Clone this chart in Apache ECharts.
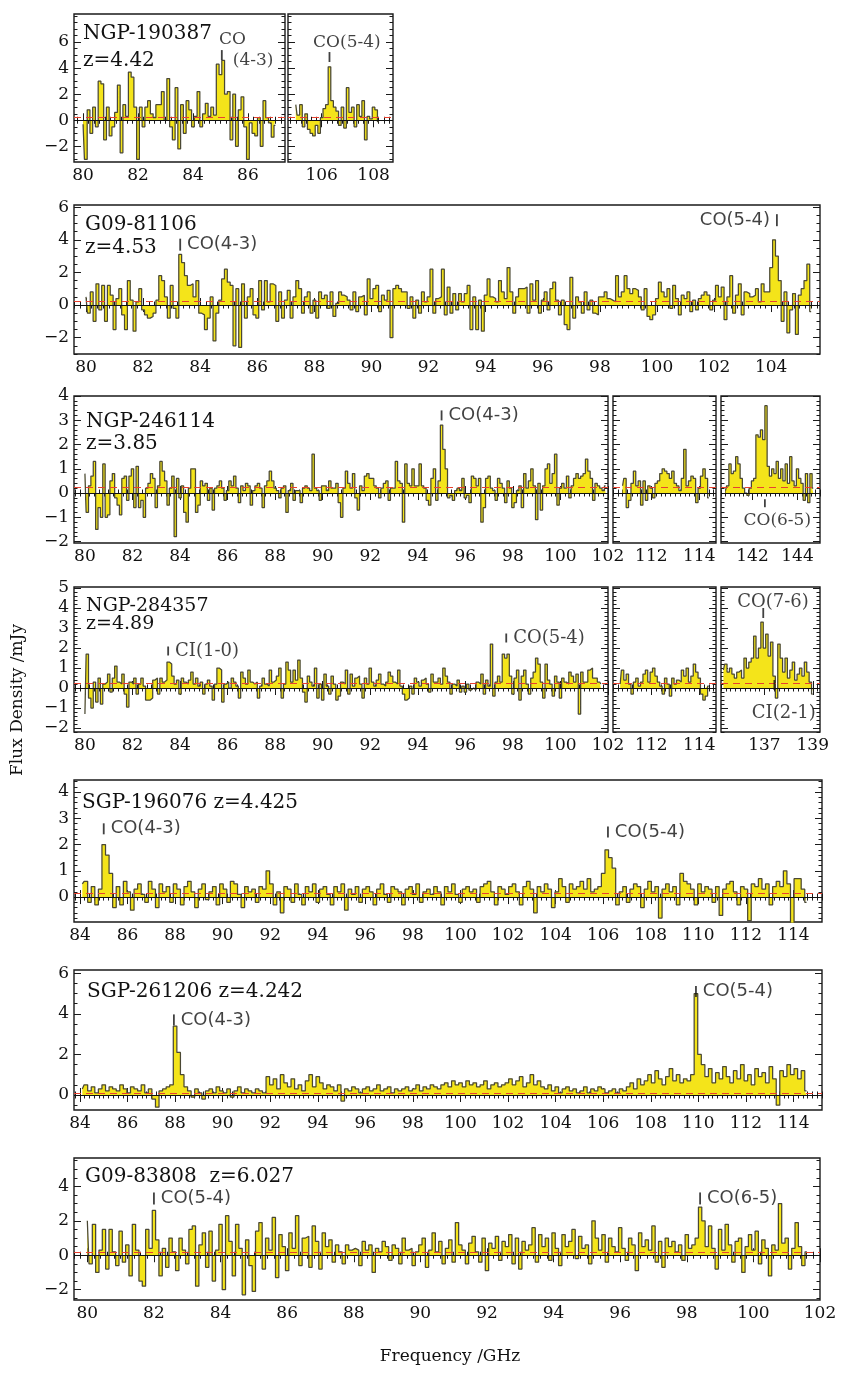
<!DOCTYPE html>
<html>
<head>
<meta charset="utf-8">
<script src="https://cdn.jsdelivr.net/npm/echarts@6/dist/echarts.min.js"></script>
<style>
  html, body { margin: 0; padding: 0; background: #fff; }
  #chart { width: 842px; height: 1373px; }
</style>
</head>
<body>
<div id="chart"></div>
<script>
// ---------- spectra (mJy per channel) ----------
// NGP-190387, z=4.42
const ngp190387LoStart = 80.0, ngp190387LoStep = 0.1;
const ngp190387Lo = [
  -0.3,-3.0,0.8,-1.0,1.0,-0.5,3.0,2.8,-1.5,1.0,
  -1.2,-0.5,0.6,2.7,-2.5,1.2,0.3,3.7,3.3,1.0,
  -3.0,1.0,-0.5,1.0,1.5,0.5,0.2,1.2,1.2,2.2,
  0.0,3.2,-0.5,-1.5,2.5,-2.2,1.2,-1.0,1.5,0.8,
  -0.5,0.3,2.2,-0.5,0.5,1.3,0.3,1.0,0.4,4.3,
  3.5,4.6,2.0,2.2,-1.5,2.0,-2.0,0.8,1.8,-0.5,
  -3.0,-0.2,-1.0,-1.2,0.2,-2.0,1.5,0.2,-0.2,-1.3,
  -0.4];
const ngp190387HiStart = 105.0, ngp190387HiStep = 0.1;
const ngp190387Hi = [
  1.2,0.4,1.2,-0.5,0.5,-0.7,-1.0,-1.2,-0.4,-1.0,
  0.2,0.9,1.2,4.1,1.5,1.0,0.7,-0.4,1.0,-0.6,
  2.5,0.6,1.0,-0.5,1.2,0.3,1.5,-1.5,0.3,0.1,
  1.0,0.8,-0.1];

// G09-81106, z=4.53
const g0981106Start = 80.0, g0981106Step = 0.1;
const g0981106 = [
  0.5,-0.5,0.8,-1.0,1.3,-0.3,1.2,-1.0,1.2,0.6,
  -1.5,0.4,1.0,-0.6,-1.5,1.5,0.3,-1.6,0.2,1.0,
  -0.3,-0.6,-0.8,-0.7,-0.5,0.3,1.8,1.5,0.5,-0.8,
  1.2,-0.2,-0.8,3.1,2.6,1.8,1.2,1.3,0.5,1.5,
  -0.5,-0.6,-1.5,-0.8,0.5,-2.2,-0.5,0.3,1.6,2.2,
  1.4,1.2,-2.5,1.0,-2.6,1.3,-0.8,0.5,1.0,-0.6,
  -0.8,1.5,-0.3,1.5,0.2,1.3,1.2,-1.0,0.8,-0.8,
  0.3,0.9,-0.8,0.5,1.5,1.0,-0.5,0.5,0.8,-0.5,
  0.3,-0.8,0.8,0.4,0.6,-0.2,0.8,-0.7,0.1,0.8,
  0.6,0.5,0.3,-0.3,0.8,-0.4,0.5,0.6,-0.6,1.6,
  0.4,1.0,1.2,-0.4,0.6,0.3,0.9,-2.0,1.0,1.2,
  1.0,0.8,0.8,-0.2,0.5,-0.8,0.3,-0.5,0.8,0.2,
  0.5,2.2,-0.5,0.4,0.5,2.2,-0.6,1.1,-0.5,0.7,
  -0.3,0.7,0.2,0.7,1.2,-1.5,0.5,-1.5,0.3,-1.6,
  0.6,1.6,0.5,0.4,0.2,1.5,0.8,0.4,2.3,0.8,
  -0.5,0.5,1.0,1.0,1.1,-0.5,1.3,0.3,1.5,-0.5,
  0.3,0.8,-0.3,1.0,1.4,0.3,-0.6,0.3,-1.2,-1.5,
  1.7,-0.8,0.5,0.2,-0.5,0.8,-0.3,0.3,-0.5,-0.6,
  0.5,0.5,0.8,0.4,0.3,0.2,1.8,0.5,0.8,1.8,
  1.0,0.7,1.0,0.9,0.5,-0.3,1.0,-0.7,-0.9,-0.6,
  0.4,1.4,0.8,0.5,1.0,-0.2,1.2,0.4,-0.6,0.6,
  0.4,0.8,-0.4,0.3,-0.3,0.4,0.6,0.8,0.6,-0.3,
  0.3,1.2,0.5,1.1,-0.9,0.5,1.8,-0.5,0.6,1.3,
  -0.6,0.8,0.7,0.5,0.6,1.0,0.2,1.3,0.8,0.8,
  2.3,4.0,3.0,1.5,-1.0,0.8,-1.7,-0.3,0.7,-1.8,
  0.6,1.0,1.5,2.5,-0.4];

// NGP-246114, z=3.85
const ngp246114LoStart = 80.0, ngp246114LoStep = 0.1;
const ngp246114Lo = [
  0.8,-0.8,0.3,0.7,1.3,-1.5,-0.6,-1.0,1.2,-1.0,
  -0.9,0.5,0.8,-0.2,-0.5,-0.9,0.6,0.7,-0.3,0.7,
  1.0,-0.6,1.1,-0.6,-0.3,-1.0,0.2,0.4,0.8,0.6,
  -0.6,0.3,1.3,0.9,0.5,-0.5,0.2,0.7,-1.8,0.6,
  -0.2,0.3,-0.8,-1.2,0.2,1.0,1.0,-0.8,-0.5,0.5,
  0.3,0.4,-0.3,0.2,-0.7,0.2,0.3,0.5,0.2,-0.3,
  0.1,0.5,0.3,0.7,0.2,-0.4,0.3,0.1,0.4,0.3,
  -0.5,0.1,0.3,0.4,0.2,-0.6,0.3,0.5,0.9,0.5,
  0.2,0.1,-0.2,0.2,0.3,-0.8,0.1,0.4,-0.3,0.1,
  0.1,-0.4,0.2,0.3,0.2,0.1,1.6,0.2,0.1,-0.3,
  0.3,0.3,0.1,0.5,0.2,0.2,0.4,-0.4,-1.0,0.2,
  0.9,0.4,0.2,0.8,-0.2,-0.7,0.3,0.1,0.7,0.8,
  0.6,0.6,0.3,0.2,-0.2,0.2,0.4,0.5,-0.3,0.2,
  0.2,1.3,0.5,0.4,-1.2,1.2,0.4,0.3,1.0,0.3,
  0.3,1.2,0.3,0.2,-0.3,-0.5,0.6,1.0,-0.3,0.5,
  2.8,1.8,1.0,-0.2,-0.1,-0.3,0.1,0.2,0.1,0.6,
  -0.2,-0.1,-0.4,0.7,0.6,0.3,0.6,-1.2,-0.6,0.6,
  0.7,0.2,0.1,-0.3,0.6,0.4,0.2,-0.4,0.5,0.2,
  -0.6,-0.4,0.1,0.3,-0.6,0.8,0.2,0.5,1.0,0.3,
  -1.1,0.4,-0.7,0.3,1.0,1.2,0.4,0.8,1.6,-0.5,
  0.2,0.4,0.2,0.7,-0.2,0.3,0.6,0.8,0.6,0.7,
  0.8,1.4,0.9,0.6,-0.3,0.4,0.3,0.2,0.1,0.3];
const ngp246114MidStart = 110.8, ngp246114MidStep = 0.1;
const ngp246114Mid = [
  0.3,0.6,-0.6,-0.3,0.4,0.9,0.3,0.5,-0.5,0.5,
  -0.3,0.3,0.2,-0.2,0.4,0.5,0.8,1.0,0.9,0.8,
  0.6,0.9,0.4,0.3,0.1,0.6,1.8,0.3,0.5,0.7,
  0.6,-0.4,0.2,0.7,1.0,0.6,-0.2];
const ngp246114HiStart = 140.8, ngp246114HiStep = 0.1;
const ngp246114Hi = [
  0.1,0.3,1.2,0.8,0.9,1.5,1.2,0.6,0.2,0.0,
  -0.1,0.2,0.5,0.6,2.4,2.3,2.6,2.2,3.6,1.1,
  0.7,1.0,0.8,1.3,0.6,1.0,0.5,1.2,0.4,1.5,
  0.5,0.3,1.0,0.6,0.4,-0.3,0.8,-0.4,0.8,0.2];

// NGP-284357, z=4.89
const ngp284357LoStart = 80.0, ngp284357LoStep = 0.1;
const ngp284357Lo = [
  -1.3,1.7,-0.5,-1.0,0.3,-0.7,0.5,-0.8,0.2,0.3,
  0.7,-0.2,0.5,1.1,0.3,0.2,0.7,-0.3,-0.95,0.3,
  0.2,0.5,-0.3,0.2,0.5,0.1,-0.6,-0.6,-0.5,0.4,
  0.5,-0.3,0.5,0.3,0.4,1.3,1.2,0.6,0.2,0.4,
  -0.3,0.5,0.3,0.2,0.4,0.8,0.2,0.5,0.1,0.3,
  -0.3,0.2,0.4,0.1,-0.6,0.2,1.0,0.9,-0.7,0.2,
  0.3,0.0,0.5,0.3,0.1,-0.5,0.8,0.5,0.2,0.9,
  0.3,0.2,0.3,-0.5,0.1,0.5,0.2,0.1,0.9,0.3,
  0.4,0.6,1.0,-0.5,0.2,1.3,0.9,0.3,0.9,0.4,
  1.4,0.5,-0.2,-0.7,0.6,0.3,0.1,1.0,-0.5,0.2,
  -0.6,0.7,0.1,-0.3,0.6,0.2,-0.6,-0.4,0.3,0.2,
  0.9,-0.3,0.7,0.1,0.5,0.6,0.2,-0.5,0.5,0.2,
  1.0,0.3,0.1,0.4,0.7,0.2,0.1,0.3,0.8,0.6,
  0.3,0.2,0.9,0.1,-0.3,-0.6,-0.5,0.1,-0.3,0.5,
  0.3,0.1,0.4,0.5,0.2,-0.2,0.7,0.3,0.3,0.5,
  0.2,1.0,0.6,0.3,-0.3,0.2,0.1,0.4,-0.2,0.1,
  -0.2,0.2,-0.1,0.0,-0.1,0.3,0.2,0.7,-0.3,0.4,
  0.1,2.2,-0.4,0.3,0.6,0.3,1.7,1.5,1.7,0.6,
  -0.3,0.5,0.9,-0.6,0.6,0.9,0.2,-0.3,0.5,0.8,
  1.5,1.2,0.3,-0.5,1.2,0.4,0.2,-0.4,0.6,0.3,
  -0.5,0.5,0.3,0.2,0.8,0.6,0.3,0.7,-1.3,0.8,
  0.3,0.3,0.9,1.0,0.5,0.5,0.3,0.2];
const ngp284357MidStart = 110.7, ngp284357MidStep = 0.1;
const ngp284357Mid = [
  0.2,0.9,0.4,0.7,0.2,-0.3,0.3,0.5,0.1,0.3,
  0.7,0.9,0.3,0.8,1.0,0.6,0.3,0.1,-0.3,0.5,
  0.2,-0.4,0.5,0.2,0.4,0.3,0.9,0.6,1.0,0.3,
  0.6,1.2,0.8,0.5,-0.3,-0.6,-0.4,0.1];
const ngp284357HiStart = 135.3, ngp284357HiStep = 0.1;
const ngp284357Hi = [
  0.9,1.2,0.8,1.0,0.7,0.5,0.8,0.9,0.5,1.5,
  1.0,1.3,1.5,2.6,1.5,2.0,3.3,2.0,2.7,1.6,
  2.3,0.6,-0.5,2.2,1.5,0.8,1.5,0.5,0.9,1.3,
  0.4,0.7,1.0,0.6,1.3,0.8,0.3,-0.3];

// SGP-196076, z=4.425
const sgp196076Start = 84.10, sgp196076Step = 0.15;
const sgp196076 = [
  0.5,0.6,-0.2,0.4,-0.3,0.3,2.0,1.6,0.9,-0.4,
  0.4,-0.3,0.6,0.2,-0.5,0.3,0.5,0.1,-0.2,0.6,
  0.3,-0.4,0.5,0.2,0.4,-0.2,0.5,0.3,-0.3,0.4,
  0.6,0.2,-0.4,0.3,0.5,-0.1,0.2,0.4,-0.3,0.5,
  0.3,-0.2,0.6,0.5,0.1,-0.4,0.4,0.2,0.3,-0.2,
  0.4,0.3,1.0,0.5,-0.3,0.2,-0.6,0.4,0.3,-0.2,
  0.5,0.1,-0.3,0.4,0.2,0.5,-0.2,0.3,0.4,0.1,
  -0.3,0.4,0.2,0.5,-0.5,0.3,0.1,0.4,-0.2,0.3,
  0.4,0.2,-0.3,0.3,0.5,0.1,-0.2,0.4,0.3,0.2,
  -0.3,0.3,0.4,0.1,0.5,-0.2,0.2,0.3,0.1,0.4,
  0.2,-0.3,0.4,0.2,0.5,0.1,-0.2,0.3,0.4,0.2,
  0.3,-0.2,0.4,0.5,0.6,0.2,-0.3,0.4,0.3,0.1,
  0.4,0.5,0.2,-0.3,0.4,0.6,0.3,-0.6,0.4,0.2,
  0.5,0.3,-0.4,0.2,0.7,0.4,-0.2,0.5,0.3,0.4,
  0.6,0.3,0.7,0.2,0.3,0.4,0.9,1.8,1.5,1.1,
  -0.3,0.2,0.4,-0.2,0.3,0.5,0.4,-0.4,0.3,0.6,
  0.2,0.4,-0.8,0.3,0.5,0.2,0.4,-0.3,0.9,0.6,
  0.5,0.3,-0.3,0.5,0.2,0.4,0.3,-0.2,0.4,-0.7,
  0.3,0.5,0.6,0.2,-0.3,0.4,0.3,-0.9,0.5,0.4,
  0.7,0.3,0.5,-0.3,0.4,0.6,0.4,1.0,0.5,-1.0,
  0.7,0.7,0.3,-0.2];

// SGP-261206, z=4.242
const sgp261206Start = 84.10, sgp261206Step = 0.15;
const sgp261206 = [
  0.3,0.5,0.2,0.4,0.1,0.3,0.5,0.2,0.4,0.3,
  0.2,0.5,0.3,0.1,0.4,0.3,0.2,0.5,0.1,0.3,
  -0.2,-0.6,0.2,0.3,0.4,0.5,3.4,2.1,1.0,0.4,
  0.2,-0.1,0.3,0.1,-0.2,0.2,0.3,0.1,0.4,0.2,
  0.1,0.3,-0.1,0.2,0.4,0.1,0.3,0.2,0.1,0.3,
  0.2,0.1,0.9,0.5,0.8,0.3,1.0,0.6,0.4,0.8,
  0.3,0.5,0.2,0.7,1.0,0.4,0.9,0.6,0.3,0.5,
  0.4,0.2,0.5,-0.3,0.3,0.2,0.4,0.3,0.1,0.3,
  0.4,0.2,0.3,0.5,0.2,0.3,0.4,0.1,0.3,0.2,
  0.3,0.4,0.2,0.3,0.5,0.2,0.4,0.3,0.5,0.4,
  0.3,0.5,0.6,0.4,0.7,0.5,0.6,0.4,0.7,0.5,
  0.6,0.4,0.5,0.7,0.3,0.5,0.6,0.4,0.5,0.6,
  0.8,0.5,0.7,0.9,0.4,0.6,1.0,0.5,0.7,0.4,
  0.3,0.5,0.2,0.4,0.1,0.3,0.4,0.2,0.3,0.1,
  0.2,0.4,0.1,0.3,0.2,0.4,0.3,0.1,0.2,0.3,
  0.1,0.3,0.2,0.4,0.6,0.3,0.8,0.5,0.7,1.0,
  0.6,1.2,0.8,0.5,0.9,1.3,0.7,1.0,0.6,0.8,
  0.7,1.0,5.0,2.0,1.5,0.9,1.3,0.6,1.1,0.8,
  1.4,0.9,0.6,1.2,0.8,1.5,0.7,1.0,0.5,1.3,
  0.9,1.1,0.6,1.4,0.8,-0.5,1.2,0.9,1.5,1.0,
  1.3,0.8,1.2,0.2];

// G09-83808, z=6.027
const g0983808Start = 80.0, g0983808Step = 0.1;
const g0983808 = [
  2.0,-0.5,1.8,-1.0,0.3,1.5,-0.8,1.5,0.2,-0.6,
  1.4,-0.4,0.6,-1.2,1.8,0.3,-1.5,-1.8,1.5,0.4,
  2.6,0.9,-1.2,0.4,-0.7,1.0,0.2,-0.9,1.0,0.3,
  -0.5,1.5,1.7,-1.8,0.6,1.3,-0.7,1.4,-1.5,0.3,
  1.8,-2.0,2.3,0.8,-1.2,1.8,0.4,-2.3,0.9,-0.6,
  -2.1,1.4,1.9,-0.8,1.0,0.3,2.2,-1.3,1.2,0.5,
  -0.9,1.3,0.4,2.3,-0.6,1.0,1.1,-0.7,1.7,0.8,
  -0.8,1.3,0.5,0.9,-0.4,0.6,0.2,-0.5,0.6,0.3,
  0.4,0.3,-0.6,0.8,0.3,0.6,-1.0,0.4,0.2,0.8,
  0.5,-0.3,0.6,0.4,-0.5,1.0,0.3,0.4,-0.6,0.2,
  0.6,1.0,-0.7,0.3,1.3,0.2,0.8,-0.5,0.4,0.9,
  -0.4,1.9,0.6,0.3,-0.5,0.7,1.1,0.2,-0.4,1.0,
  -0.9,0.7,0.4,1.1,-0.3,0.8,0.5,1.2,-0.5,1.0,
  -0.8,0.8,0.3,0.6,1.6,-0.4,1.2,0.5,1.0,-0.3,
  1.3,0.4,-0.6,1.2,0.5,0.8,1.5,-0.2,1.1,0.4,
  0.6,-0.5,2.0,1.0,0.3,1.2,-0.4,1.0,0.5,0.2,
  1.6,0.4,-0.3,1.0,0.6,-0.9,1.3,0.5,0.9,0.3,
  1.7,-0.4,0.8,-0.7,1.0,0.5,0.8,0.2,0.6,-0.3,
  1.2,0.4,0.6,1.0,2.8,2.0,0.5,1.7,0.4,-0.8,
  1.5,0.3,1.8,0.6,-0.4,0.8,1.0,-1.0,0.5,1.2,
  0.3,1.4,-0.5,0.9,0.4,-1.2,0.6,0.3,3.0,0.7,
  1.0,-0.8,0.4,1.9,0.5,-0.6,0.2];

// ---------- tick labels ----------
const ticksX1a = [80, 82, 84, 86];
const ticksX1b = [106, 108];
const ticksX2 = [80, 82, 84, 86, 88, 90, 92, 94, 96, 98, 100, 102, 104];
const ticksX34 = [80, 82, 84, 86, 88, 90, 92, 94, 96, 98, 100, 102];
const ticksX34mid = [112, 114];
const ticksX3hi = [142, 144];
const ticksX4hi = [137, 139];
const ticksX56 = [84, 86, 88, 90, 92, 94, 96, 98, 100, 102, 104, 106, 108, 110, 112, 114];
const ticksX7 = [80, 82, 84, 86, 88, 90, 92, 94, 96, 98, 100, 102];
const ticksY12 = [-2, 0, 2, 4, 6];
const ticksY3 = [-2, -1, 0, 1, 2, 3, 4];
const ticksY4 = [-2, -1, 0, 1, 2, 3, 4, 5];
const ticksY5 = [-1, 0, 1, 2, 3, 4];
const ticksY6 = [0, 2, 4, 6];
const ticksY7 = [-2, 0, 2, 4];

// ---------- line identifications: [GHz, mJy, label, label side] ----------
const lines1a = [[85.05, 5.0, '', '']];
const notes1a = [['CO', 84.95, 6.2, 'left'], ['(4-3)', 85.45, 4.55, 'left']];
const lines1b = [[106.3, 4.85, '', '']];
const notes1b = [['CO(5-4)', 106.97, 5.95, 'center']];
const lines2 = [[83.3, 3.7, 'CO(4-3)', 'right'], [104.2, 5.2, 'CO(5-4)', 'left']];
const lines3 = [[95.0, 3.2, 'CO(4-3)', 'right']];
const lines3hi = [[142.55, -0.42, '', '']];
const notes3hi = [['CO(6-5)', 143.1, -1.15, 'center']];
const lines4 = [[83.5, 1.85, 'CI(1-0)', 'right'], [97.72, 2.5, 'CO(5-4)', 'right']];
const lines4hi = [[136.95, 3.75, '', ''], [137.41, 0.15, '', '']];
const notes4hi = [['CO(7-6)', 137.35, 4.3, 'center'], ['CI(2-1)', 137.8, -1.25, 'center']];
const lines5 = [[85.0, 2.6, 'CO(4-3)', 'right'], [106.2, 2.48, 'CO(5-4)', 'right']];
const lines6 = [[87.95, 3.7, 'CO(4-3)', 'right'], [109.9, 5.1, 'CO(5-4)', 'right']];
const lines7 = [[82.0, 3.3, 'CO(5-4)', 'right'], [98.4, 3.3, 'CO(6-5)', 'right']];

const SERIF = '"DejaVu Serif", serif';
const SANS = '"DejaVu Sans", sans-serif';

// panel layout: grid box [left, top, width, height] in px
const panels = [
  { box: [74, 14, 211, 148], x: [79.67, 87.35], y: [-3.2, 8.15], xt: ticksX1a, yt: ticksY12, xm: 0.2, ym: 0.5, yLab: true,
    spec: [ngp190387LoStart, ngp190387LoStep, ngp190387Lo], dash: 0.25, lines: lines1a, notes: notes1a, font: SERIF, fs: 17, tl: 10 },
  { box: [288, 14, 105, 148], x: [104.7, 108.75], y: [-3.2, 8.15], xt: ticksX1b, yt: ticksY12, xm: 0.2, ym: 0.5, yLab: false,
    spec: [ngp190387HiStart, ngp190387HiStep, ngp190387Hi], dash: 0.25, lines: lines1b, notes: notes1b, font: SERIF, fs: 17, tl: 10 },
  { box: [74, 205, 746, 149], x: [79.58, 105.71], y: [-3.0, 6.13], xt: ticksX2, yt: ticksY12, xm: 0.2, ym: 0.5, yLab: true,
    spec: [g0981106Start, g0981106Step, g0981106], dash: 0.25, lines: lines2, notes: [], font: SANS, fs: 18, tl: 12 },
  { box: [74, 396, 534, 147], x: [79.54, 102.0], y: [-2.06, 4.0], xt: ticksX34, yt: ticksY3, xm: 0.2, ym: 0.2, yLab: true,
    spec: [ngp246114LoStart, ngp246114LoStep, ngp246114Lo], dash: 0.25, lines: lines3, notes: [], font: SANS, fs: 18, tl: 10 },
  { box: [613, 396, 103, 147], x: [110.4, 114.7], y: [-2.06, 4.0], xt: ticksX34mid, yt: ticksY3, xm: 0.2, ym: 0.2, yLab: false,
    spec: [ngp246114MidStart, ngp246114MidStep, ngp246114Mid], dash: 0.25, lines: [], notes: [], font: SANS, fs: 18, tl: 10 },
  { box: [721, 396, 99, 147], x: [140.6, 145.0], y: [-2.06, 4.0], xt: ticksX3hi, yt: ticksY3, xm: 0.2, ym: 0.2, yLab: false,
    spec: [ngp246114HiStart, ngp246114HiStep, ngp246114Hi], dash: 0.25, lines: lines3hi, notes: notes3hi, font: SERIF, fs: 17, tl: 8 },
  { box: [74, 587, 534, 145], x: [79.54, 102.0], y: [-2.2, 5.05], xt: ticksX34, yt: ticksY4, xm: 0.2, ym: 0.2, yLab: true,
    spec: [ngp284357LoStart, ngp284357LoStep, ngp284357Lo], dash: 0.25, lines: lines4, notes: [], font: SERIF, fs: 18, tl: 9 },
  { box: [613, 587, 103, 145], x: [110.4, 114.7], y: [-2.2, 5.05], xt: ticksX34mid, yt: ticksY4, xm: 0.2, ym: 0.2, yLab: false,
    spec: [ngp284357MidStart, ngp284357MidStep, ngp284357Mid], dash: 0.25, lines: [], notes: [], font: SERIF, fs: 18, tl: 9 },
  { box: [721, 587, 99, 145], x: [135.2, 139.3], y: [-2.2, 5.05], xt: ticksX4hi, yt: ticksY4, xm: 0.2, ym: 0.2, yLab: false,
    spec: [ngp284357HiStart, ngp284357HiStep, ngp284357Hi], dash: 0.25, lines: lines4hi, notes: notes4hi, font: SERIF, fs: 18, tl: 10 },
  { box: [74, 780, 748, 142], x: [83.75, 115.2], y: [-0.95, 4.46], xt: ticksX56, yt: ticksY5, xm: 0.2, ym: 0.2, yLab: true,
    spec: [sgp196076Start, sgp196076Step, sgp196076], dash: 0.15, lines: lines5, notes: [], font: SANS, fs: 18, tl: 11 },
  { box: [74, 970, 748, 140], x: [83.75, 115.2], y: [-0.74, 6.16], xt: ticksX56, yt: ticksY6, xm: 0.2, ym: 0.5, yLab: true,
    spec: [sgp261206Start, sgp261206Step, sgp261206], dash: 0.1, lines: lines6, notes: [], font: SANS, fs: 18, tl: 11 },
  { box: [74, 1158, 746, 142], x: [79.6, 102.0], y: [-2.6, 5.65], xt: ticksX7, yt: ticksY7, xm: 0.2, ym: 0.5, yLab: true,
    spec: [g0983808Start, g0983808Step, g0983808], dash: 0.2, lines: lines7, notes: [], font: SANS, fs: 18, tl: 12 }
];

const panelTitles = [
  ['NGP-190387', 83, 24, 20], ['z=4.42', 83, 51, 20],
  ['G09-81106', 85, 215, 20], ['z=4.53', 85, 238, 20],
  ['NGP-246114', 86, 412, 20], ['z=3.85', 86, 434, 20],
  ['NGP-284357', 86, 597, 19], ['z=4.89', 86, 615, 19],
  ['SGP-196076 z=4.425', 82, 793, 20],
  ['SGP-261206 z=4.242', 87, 982, 20],
  ['G09-83808  z=6.027', 85, 1167, 20]
];

function minorTicks(range, step) {
  const out = [];
  for (let k = Math.ceil(range[0] / step - 1e-6); k * step <= range[1] + 1e-9; k++) {
    out.push(+(k * step).toFixed(3));
  }
  return out;
}

function axisDef(gi, range, pos, vals, len, showLabel) {
  return {
    gridIndex: gi, type: 'value', min: range[0], max: range[1], position: pos,
    axisLine: { show: false }, splitLine: { show: false }, minorTick: { show: false },
    axisTick: { show: true, inside: true, length: len, customValues: vals, lineStyle: { color: '#1a1a1a', width: 1 } },
    axisLabel: {
      show: showLabel, customValues: vals, margin: 5, color: '#111',
      fontFamily: SERIF, fontSize: 17,
      formatter: v => String(v).replace('-', '\u2212')
    }
  };
}

const grid = [], xAxis = [], yAxis = [], series = [];

panels.forEach((p, gi) => {
  grid.push({
    left: p.box[0], top: p.box[1], width: p.box[2], height: p.box[3],
    show: true, borderColor: '#1a1a1a', borderWidth: 1.4, backgroundColor: 'transparent'
  });
  const xi = xAxis.length, yi = yAxis.length;
  const xMin = minorTicks(p.x, p.xm), yMin = minorTicks(p.y, p.ym);
  xAxis.push(axisDef(gi, p.x, 'bottom', p.xt, 7, true));
  xAxis.push(axisDef(gi, p.x, 'bottom', xMin, 3.5, false));
  xAxis.push(axisDef(gi, p.x, 'top', p.xt, 7, false));
  xAxis.push(axisDef(gi, p.x, 'top', xMin, 3.5, false));
  yAxis.push(axisDef(gi, p.y, 'left', p.yt, 7, p.yLab));
  yAxis.push(axisDef(gi, p.y, 'left', yMin, 3.5, false));
  yAxis.push(axisDef(gi, p.y, 'right', p.yt, 7, false));
  yAxis.push(axisDef(gi, p.y, 'right', yMin, 3.5, false));

  const [start, step, vals] = p.spec;
  series.push({
    type: 'line', xAxisIndex: xi, yAxisIndex: yi,
    data: vals.map((v, i) => [+(start + i * step).toFixed(3), v]),
    step: 'middle', symbol: 'none', clip: true,
    lineStyle: { color: '#4a4834', width: 1.25 },
    areaStyle: { color: '#f4e41a', opacity: 1, origin: 'auto' },
    markLine: {
      silent: true, symbol: 'none', animation: false, label: { show: false },
      data: [
        { yAxis: 0, lineStyle: { color: '#111', type: 'solid', width: 1 } },
        { yAxis: p.dash, lineStyle: { color: '#e8412f', type: [7, 5], width: 1.2 } }
      ]
    },
    z: 2
  });

  const marks = [];
  p.lines.forEach(([nu, lev, name, side]) => {
    marks.push({
      value: [nu, lev], symbol: 'rect', symbolSize: [1.8, p.tl],
      label: { show: !!name, position: side || 'right', distance: 6, formatter: name,
               fontFamily: p.font, fontSize: p.fs, color: '#111' }
    });
  });
  p.notes.forEach(([txt, nu, lev, align]) => {
    marks.push({
      value: [nu, lev], symbolSize: 0,
      label: { show: true, position: 'inside', align: align, verticalAlign: 'middle', formatter: txt,
               fontFamily: p.font, fontSize: p.fs, color: '#111' }
    });
  });
  if (marks.length) {
    series.push({
      type: 'scatter', xAxisIndex: xi, yAxisIndex: yi, data: marks,
      itemStyle: { color: '#111' }, z: 5, silent: true
    });
  }
});

const graphic = panelTitles.map(([t, l, tp, fs]) => ({
  type: 'text', left: l, top: tp,
  style: { text: t, font: fs + 'px ' + SERIF, fill: '#111' }
}));
graphic.push({
  type: 'text', x: 18, y: 700, rotation: Math.PI / 2,
  style: { text: 'Flux Density /mJy', font: '17px ' + SERIF, fill: '#111', textAlign: 'center', textVerticalAlign: 'middle' }
});
graphic.push({
  type: 'text', x: 450, y: 1357,
  style: { text: 'Frequency /GHz', font: '17px ' + SERIF, fill: '#111', textAlign: 'center', textVerticalAlign: 'middle' }
});

const chart = echarts.init(document.getElementById('chart'));
chart.setOption({
  animation: false,
  backgroundColor: '#fff',
  grid, xAxis, yAxis, series, graphic
});
</script>
</body>
</html>
